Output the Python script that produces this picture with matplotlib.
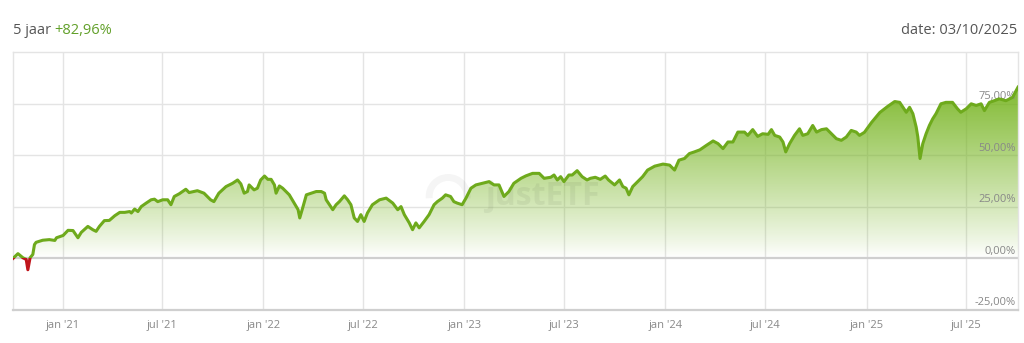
import numpy as np
import pandas as pd
import matplotlib
matplotlib.use("Agg")
import matplotlib.pyplot as plt
import matplotlib.dates as mdates
from matplotlib.patches import Rectangle, Arc
from matplotlib.path import Path
from matplotlib.transforms import blended_transform_factory

# performance in %
dates = [
    "2020-10-03", "2020-10-12", "2020-10-21", "2020-10-27", "2020-10-30", "2020-11-03", "2020-11-08",
    "2020-11-11", "2020-11-14", "2020-11-26", "2020-12-08", "2020-12-18", "2020-12-21", "2021-01-02",
    "2021-01-11", "2021-01-20", "2021-01-29", "2021-02-04", "2021-02-16", "2021-02-25", "2021-03-03",
    "2021-03-09", "2021-03-18", "2021-03-27", "2021-04-06", "2021-04-15", "2021-04-24", "2021-05-03",
    "2021-05-06", "2021-05-12", "2021-05-18", "2021-05-24", "2021-06-02", "2021-06-11", "2021-06-17",
    "2021-06-23", "2021-07-02", "2021-07-11", "2021-07-17", "2021-07-23", "2021-08-01", "2021-08-13",
    "2021-08-19", "2021-09-03", "2021-09-15", "2021-09-21", "2021-09-27", "2021-10-03", "2021-10-12",
    "2021-10-25", "2021-11-06", "2021-11-15", "2021-11-21", "2021-11-27", "2021-12-03", "2021-12-06",
    "2021-12-15", "2021-12-21", "2021-12-27", "2022-01-03", "2022-01-09", "2022-01-15", "2022-01-21",
    "2022-01-24", "2022-01-30", "2022-02-05", "2022-02-11", "2022-02-17", "2022-02-26", "2022-03-05",
    "2022-03-08", "2022-03-14", "2022-03-20", "2022-03-29", "2022-04-07", "2022-04-16", "2022-04-22",
    "2022-04-25", "2022-05-01", "2022-05-07", "2022-05-13", "2022-05-19", "2022-05-28", "2022-06-03",
    "2022-06-09", "2022-06-15", "2022-06-21", "2022-06-27", "2022-07-03", "2022-07-09", "2022-07-18",
    "2022-07-31", "2022-08-12", "2022-08-24", "2022-09-02", "2022-09-08", "2022-09-14", "2022-09-23",
    "2022-09-29", "2022-10-05", "2022-10-11", "2022-10-20", "2022-10-29", "2022-11-07", "2022-11-13",
    "2022-11-22", "2022-11-28", "2022-12-07", "2022-12-13", "2022-12-19", "2022-12-28", "2023-01-04",
    "2023-01-13", "2023-01-22", "2023-02-03", "2023-02-15", "2023-02-24", "2023-03-05", "2023-03-14",
    "2023-03-23", "2023-04-01", "2023-04-14", "2023-04-23", "2023-05-05", "2023-05-17", "2023-05-26",
    "2023-06-07", "2023-06-13", "2023-06-19", "2023-06-25", "2023-07-01", "2023-07-10", "2023-07-16",
    "2023-07-25", "2023-08-03", "2023-08-12", "2023-08-18", "2023-08-27", "2023-09-05", "2023-09-14",
    "2023-09-20", "2023-10-01", "2023-10-10", "2023-10-16", "2023-10-22", "2023-10-27", "2023-11-03",
    "2023-11-12", "2023-11-21", "2023-11-30", "2023-12-13", "2023-12-28", "2024-01-09", "2024-01-18",
    "2024-01-26", "2024-02-05", "2024-02-14", "2024-02-23", "2024-03-04", "2024-03-16", "2024-03-28",
    "2024-04-06", "2024-04-15", "2024-04-24", "2024-05-03", "2024-05-12", "2024-05-24", "2024-05-30",
    "2024-06-08", "2024-06-17", "2024-06-26", "2024-07-06", "2024-07-12", "2024-07-18", "2024-07-27",
    "2024-08-02", "2024-08-07", "2024-08-14", "2024-08-23", "2024-09-01", "2024-09-07", "2024-09-16",
    "2024-09-25", "2024-10-02", "2024-10-11", "2024-10-20", "2024-10-29", "2024-11-07", "2024-11-16",
    "2024-11-25", "2024-12-04", "2024-12-13", "2024-12-19", "2024-12-28", "2025-01-10", "2025-01-25",
    "2025-02-08", "2025-02-21", "2025-03-02", "2025-03-08", "2025-03-14", "2025-03-20", "2025-03-26",
    "2025-04-01", "2025-04-04", "2025-04-08", "2025-04-13", "2025-04-19", "2025-04-25", "2025-05-01",
    "2025-05-07", "2025-05-16", "2025-05-25", "2025-06-06", "2025-06-15", "2025-06-21", "2025-07-01",
    "2025-07-10", "2025-07-19", "2025-07-28", "2025-08-03", "2025-08-12", "2025-08-21", "2025-08-30",
    "2025-09-11", "2025-09-23", "2025-10-03",
]
perf = [
    0.0, 2.3, 0.3, -0.5, -5.5, 0.3, 1.9,
    6.7, 7.8, 8.8, 9.1, 8.7, 10.0, 11.1,
    13.6, 13.5, 10.0, 12.6, 15.5, 13.9, 13.1,
    15.5, 18.3, 18.4, 20.7, 22.3, 22.3, 22.7,
    22.0, 23.9, 22.7, 25.1, 26.8, 28.4, 28.7,
    27.5, 28.4, 28.4, 26.0, 30.0, 31.3, 33.5,
    31.9, 32.8, 31.6, 30.0, 28.4, 27.5, 31.6,
    34.8, 36.4, 38.0, 36.1, 31.6, 32.4, 35.6,
    33.2, 34.0, 38.0, 39.9, 38.3, 38.3, 35.6,
    31.6, 35.1, 34.0, 32.4, 30.8, 26.8, 23.6,
    19.6, 25.1, 30.8, 31.6, 32.4, 32.4, 31.6,
    28.4, 26.0, 23.6, 26.0, 27.5, 30.3, 28.4,
    26.0, 19.6, 17.9, 21.2, 17.9, 22.0, 26.0,
    28.4, 29.2, 26.8, 23.6, 25.1, 21.2, 17.2,
    13.9, 17.2, 14.8, 17.9, 21.2, 26.0, 27.5,
    29.2, 30.8, 30.0, 27.5, 26.8, 26.0, 29.2,
    34.0, 35.6, 36.4, 37.2, 35.6, 35.6, 30.0,
    32.4, 36.4, 38.8, 40.0, 41.2, 41.2, 38.8,
    39.3, 40.4, 38.0, 39.6, 37.2, 40.4, 40.4,
    42.5, 39.6, 38.0, 38.8, 39.3, 38.3, 39.9,
    38.0, 35.6, 38.0, 34.8, 34.0, 30.8, 34.8,
    37.2, 39.6, 42.8, 44.7, 45.7, 45.2, 42.8,
    47.6, 48.4, 50.8, 51.6, 52.6, 54.8, 56.9,
    55.6, 53.2, 56.4, 56.4, 61.2, 61.2, 59.6,
    62.4, 59.1, 60.4, 60.1, 62.4, 59.6, 58.8,
    56.4, 51.6, 55.6, 59.6, 62.8, 59.6, 60.4,
    64.4, 61.2, 62.4, 62.8, 60.4, 58.0, 57.2,
    58.8, 62.0, 61.2, 59.6, 61.1, 65.9, 70.7,
    73.6, 76.0, 75.6, 73.2, 70.8, 73.2, 70.1,
    63.6, 58.8, 48.4, 55.6, 60.4, 64.4, 67.6,
    70.1, 74.9, 75.6, 75.6, 72.5, 70.8, 72.5,
    74.9, 74.1, 74.9, 71.6, 75.6, 76.4, 77.3,
    76.4, 78.0, 82.96,
]

x_ticks = ["2021-01-01", "2021-07-01", "2022-01-01", "2022-07-01", "2023-01-01",
           "2023-07-01", "2024-01-01", "2024-07-01", "2025-01-01", "2025-07-01"]
x_labels = ["jan '21", "jul '21", "jan '22", "jul '22", "jan '23",
            "jul '23", "jan '24", "jul '24", "jan '25", "jul '25"]
y_ticks = [-25, 0, 25, 50, 75]
y_labels = ["-25,00%", "0,00%", "25,00%", "50,00%", "75,00%"]

period = "5 jaar"
total = "+82,96%"
date_txt = "date: 03/10/2025"

plt.rcParams['font.family'] = ['Open Sans', 'DejaVu Sans']

green = "#6eaa1c"
red = "#c0141b"
grey_txt = "#888888"

x = pd.to_datetime(dates)
y = np.array(perf)
xn = mdates.date2num(x)

fig = plt.figure(figsize=(10.24, 3.43), dpi=100)
ax = fig.add_axes([13/1024, 1 - 310/343, 1005/1024, 258/343])

x0 = mdates.date2num(pd.Timestamp("2020-10-03"))
x1 = mdates.date2num(pd.Timestamp("2025-10-03"))
ax.set_xlim(x0, x1)
ax.set_ylim(-25, 100)

# grid
for t in x_ticks:
    ax.axvline(mdates.date2num(pd.Timestamp(t)), color="#e4e4e4", lw=1, zorder=0)
for v in [25, 50, 75]:
    ax.axhline(v, color="#e4e4e4", lw=1, zorder=0)
ax.axhline(0, color="#cfcfcf", lw=1.6, zorder=1)

# gradient fill under the line
top = 86.0
ramp = np.linspace(0, 1, 256)[:, None]
img = np.zeros((256, 1, 4))
img[..., 0] = 0.45
img[..., 1] = 0.70
img[..., 2] = 0.10
img[..., 3] = 0.92 * ramp ** 0.9
poly = ax.fill_between(xn, 0, y, where=y > 0, interpolate=True, color="none", lw=0)
im = ax.imshow(img, extent=[x0, x1, 0, top], origin="lower", aspect="auto", zorder=1,
               interpolation="bilinear")
clip = Path.make_compound_path(*poly.get_paths())
im.set_clip_path(clip, transform=ax.transData)

# line: green above zero, red below
ln_g, = ax.plot(xn, y, color=green, lw=2.2, zorder=4, solid_joinstyle="round")
ln_g.set_clip_path(Rectangle((x0, 0), x1 - x0, 100, transform=ax.transData))
ln_r, = ax.plot(xn, y, color=red, lw=2.2, zorder=4, solid_joinstyle="round")
ln_r.set_clip_path(Rectangle((x0, -25), x1 - x0, 25, transform=ax.transData))

# watermark
ax.text(0.527, 0.44, "justETF", transform=ax.transAxes, fontsize=23, fontweight="bold",
        color="#000000", alpha=0.05, ha="center", va="center", zorder=2)
ax.add_patch(Arc((0.433, 0.44), 38/1005, 38/258, theta1=-20, theta2=200, lw=5,
                 color="#000000", alpha=0.04, transform=ax.transAxes, zorder=2))

# y labels inside on the right
tr = blended_transform_factory(ax.transAxes, ax.transData)
for v, lab in zip(y_ticks, y_labels):
    ax.text(0.998, v + 0.8, lab, transform=tr, ha="right", va="bottom",
            fontsize=8, color=grey_txt, zorder=3)

ax.set_yticks([])
ax.set_xticks([mdates.date2num(pd.Timestamp(t)) for t in x_ticks])
ax.set_xticklabels(x_labels)
ax.tick_params(axis="x", length=0, pad=7, labelsize=8, labelcolor=grey_txt)

for s in ["left", "top", "right"]:
    ax.spines[s].set_color("#e4e4e4")
    ax.spines[s].set_linewidth(1)
ax.spines["bottom"].set_color("#cfcfcf")
ax.spines["bottom"].set_linewidth(1.6)

# header
fig.text(13/1024, 1 - 30/343, period, fontsize=10.5, color="#555555", ha="left", va="center")
fig.text(54/1024, 1 - 30/343, total, fontsize=10.5, color="#62a02a", ha="left", va="center")
fig.text(1017/1024, 1 - 30/343, date_txt, fontsize=10.5, color="#555555", ha="right", va="center")

fig.savefig("out.png", dpi=100)
